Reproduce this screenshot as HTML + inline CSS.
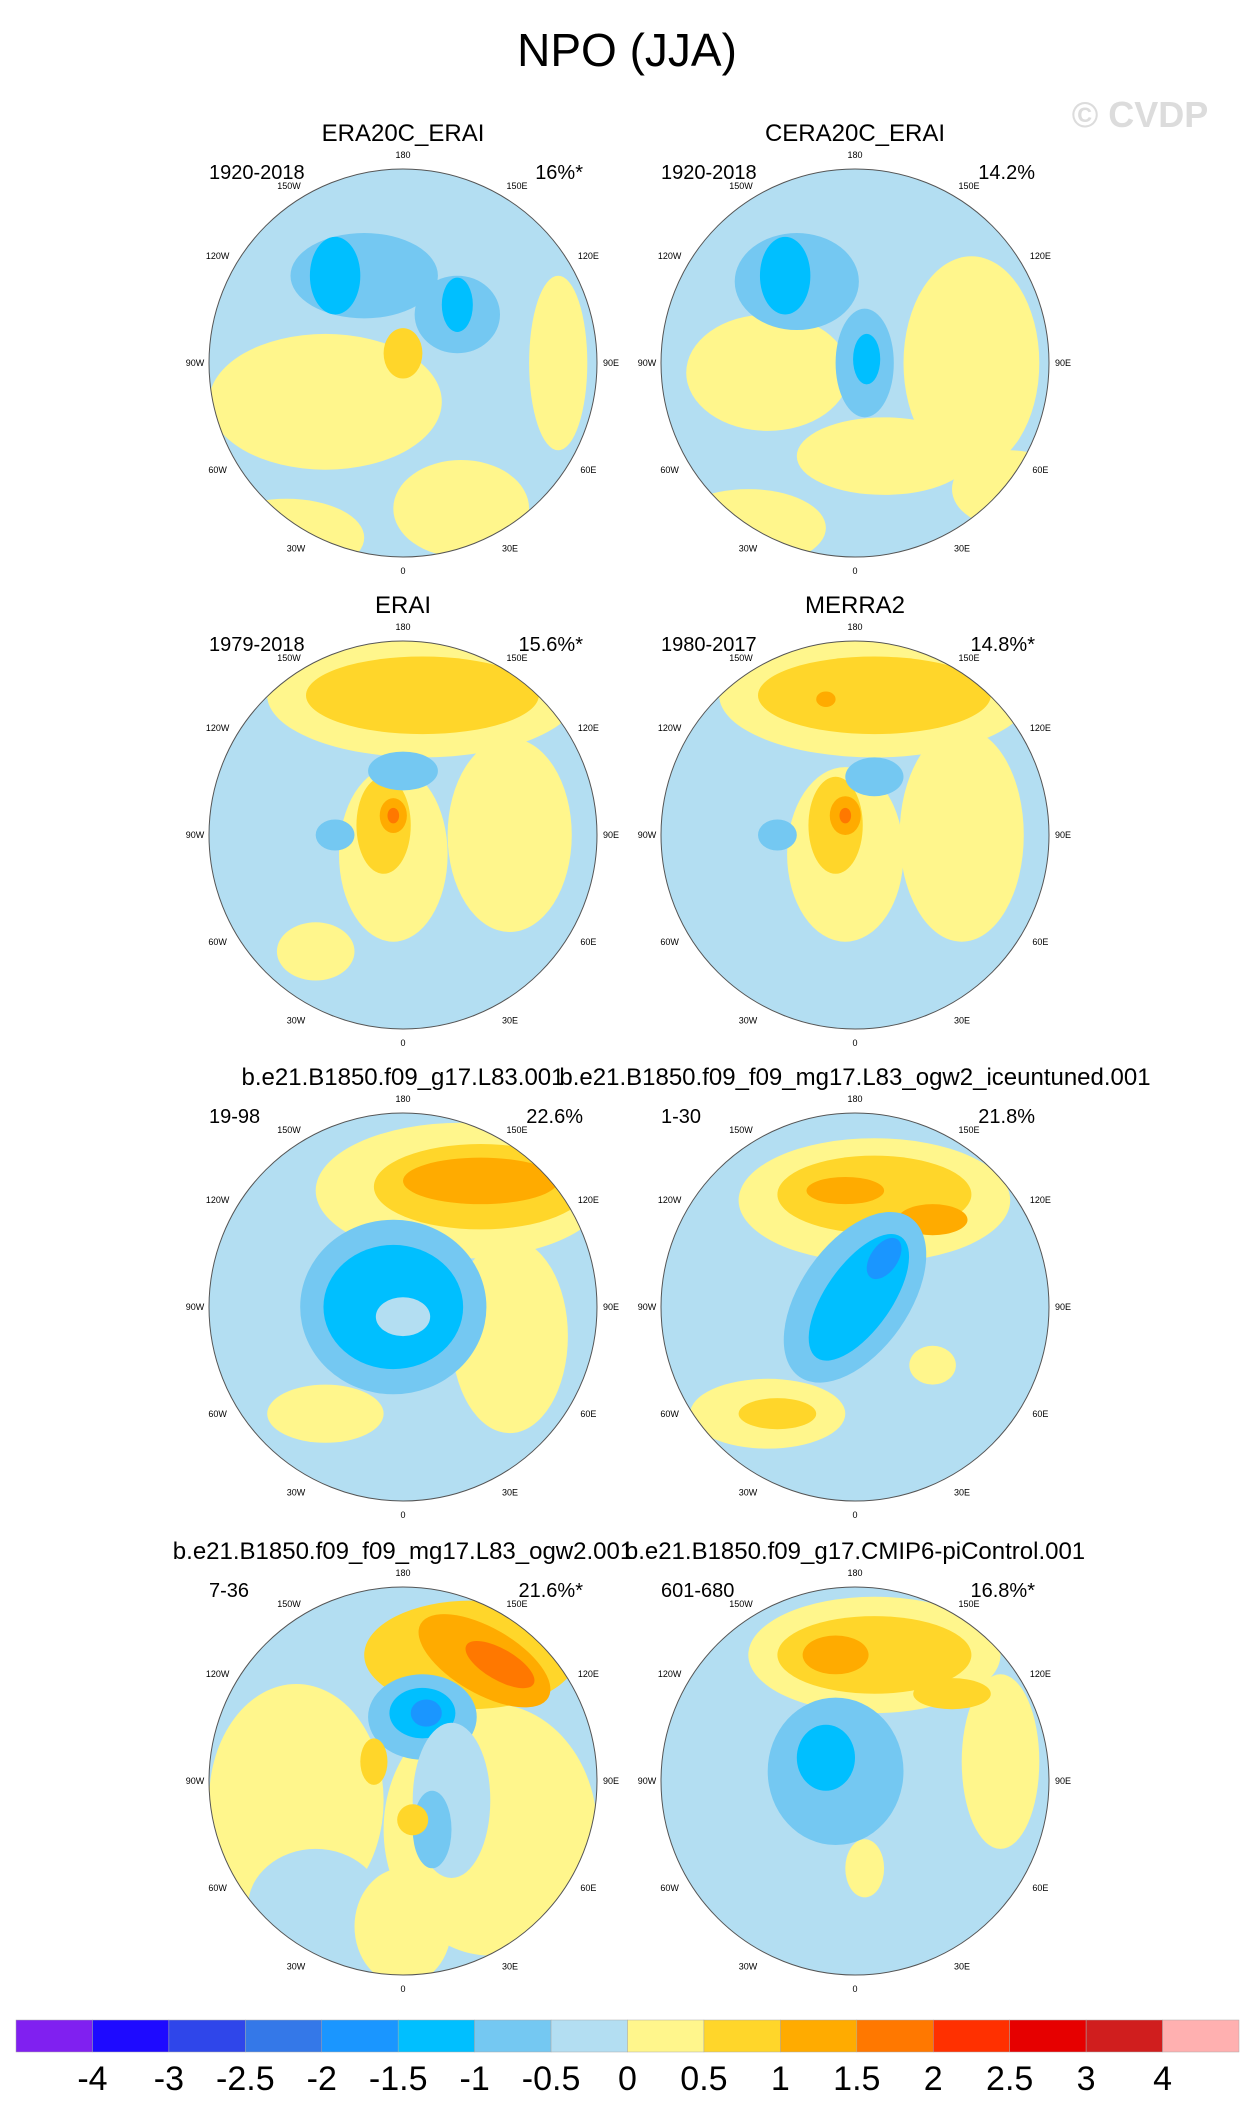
<!DOCTYPE html>
<html><head><meta charset="utf-8"><style>
body{margin:0;background:#fff;}
svg{display:block;font-family:"Liberation Sans",sans-serif;}
</style></head><body>
<svg id="fig" width="1258" height="2126" viewBox="0 0 1258 2126">
<text x="627" y="66" font-size="46" text-anchor="middle">NPO (JJA)</text>
<text x="1140" y="127" font-size="36" font-weight="bold" fill="#dcdcdc" text-anchor="middle">© CVDP</text>
<g id="panels"></g>
<g id="cbar"></g>
</svg>
<script>
const colors=["#8020F0","#1E0AFF","#2F46EA","#3478E8","#1A96FF","#00BFFF","#74C8F2","#B3DEF2","#FFF68C","#FFD62A","#FFAB00","#FF7800","#FF3000","#E60000","#D01E1E","#FFB0B0"];
const cbarLabels=["-4","-3","-2.5","-2","-1.5","-1","-0.5","0","0.5","1","1.5","2","2.5","3","4"];
const titles=["ERA20C_ERAI","CERA20C_ERAI","ERAI","MERRA2","b.e21.B1850.f09_g17.L83.001","b.e21.B1850.f09_f09_mg17.L83_ogw2_iceuntuned.001","b.e21.B1850.f09_f09_mg17.L83_ogw2.001","b.e21.B1850.f09_g17.CMIP6-piControl.001"];
const years=["1920-2018","1920-2018","1979-2018","1980-2017","19-98","1-30","7-36","601-680"];
const pcts=["16%*","14.2%","15.6%*","14.8%*","22.6%","21.8%","21.6%*","16.8%*"];
// blobs: [x, y, rx, ry, colorIndex, rotation] relative to circle radius
const blobs=[
 [[-0.4,0.2,0.6,0.35,8,0],[-0.6,0.9,0.4,0.2,8,0],[0.3,0.75,0.35,0.25,8,0],[-0.2,-0.45,0.38,0.22,6,0],[0.28,-0.25,0.22,0.2,6,0],[-0.35,-0.45,0.13,0.2,5,0],[0.28,-0.3,0.08,0.14,5,0],[0.0,-0.05,0.1,0.13,9,0],[0.8,0.0,0.15,0.45,8,0]],
 [[0.6,0.0,0.35,0.55,8,0],[-0.45,0.05,0.42,0.3,8,0],[0.15,0.48,0.45,0.2,8,0],[-0.55,0.85,0.4,0.2,8,0],[0.8,0.65,0.3,0.2,8,0],[-0.3,-0.42,0.32,0.25,6,0],[-0.36,-0.45,0.13,0.2,5,0],[0.05,0.0,0.15,0.28,6,0],[0.06,-0.02,0.07,0.13,5,0]],
 [[0.1,-0.72,0.8,0.32,8,0],[0.1,-0.72,0.6,0.2,9,0],[-0.05,0.1,0.28,0.45,8,0],[0.55,0.0,0.32,0.5,8,0],[-0.1,-0.05,0.14,0.25,9,0],[-0.05,-0.1,0.07,0.09,10,0],[-0.05,-0.1,0.03,0.04,11,0],[0.0,-0.33,0.18,0.1,6,0],[-0.35,0.0,0.1,0.08,6,0],[-0.45,0.6,0.2,0.15,8,0]],
 [[0.1,-0.72,0.8,0.32,8,0],[0.1,-0.72,0.6,0.2,9,0],[-0.15,-0.7,0.05,0.04,10,0],[-0.05,0.1,0.3,0.45,8,0],[0.55,0.0,0.32,0.55,8,0],[-0.1,-0.05,0.14,0.25,9,0],[-0.05,-0.1,0.08,0.1,10,0],[-0.05,-0.1,0.03,0.04,11,0],[0.1,-0.3,0.15,0.1,6,0],[-0.4,0.0,0.1,0.08,6,0]],
 [[0.3,-0.6,0.75,0.35,8,0],[0.4,-0.62,0.55,0.22,9,0],[0.4,-0.65,0.4,0.12,10,0],[0.55,0.15,0.3,0.5,8,0],[-0.4,0.55,0.3,0.15,8,0],[-0.05,0.0,0.48,0.45,6,0],[-0.05,0.0,0.36,0.32,5,0],[0.0,0.05,0.14,0.1,7,0]],
 [[0.1,-0.55,0.7,0.32,8,0],[0.1,-0.58,0.5,0.2,9,0],[-0.05,-0.6,0.2,0.07,10,0],[0.4,-0.45,0.18,0.08,10,0],[-0.45,0.55,0.4,0.18,8,0],[-0.4,0.55,0.2,0.08,9,0],[0.4,0.3,0.12,0.1,8,0],[0.0,-0.05,0.28,0.5,6,35],[0.02,-0.05,0.17,0.38,5,35],[0.15,-0.25,0.07,0.12,4,35]],
 [[0.45,0.25,0.55,0.65,8,0],[-0.55,0.1,0.45,0.6,8,0],[-0.45,0.65,0.35,0.3,7,0],[0.0,0.75,0.25,0.3,8,0],[0.35,-0.65,0.55,0.28,9,0],[0.42,-0.62,0.38,0.17,10,30],[0.5,-0.6,0.2,0.08,11,30],[0.1,-0.33,0.28,0.22,6,0],[0.1,-0.35,0.17,0.13,5,0],[0.12,-0.35,0.08,0.07,4,0],[0.25,0.1,0.2,0.4,7,0],[0.15,0.25,0.1,0.2,6,0],[-0.15,-0.1,0.07,0.12,9,0],[0.05,0.2,0.08,0.08,9,0]],
 [[0.75,-0.1,0.2,0.45,8,0],[0.1,-0.65,0.65,0.3,8,0],[0.1,-0.65,0.5,0.2,9,0],[-0.1,-0.65,0.17,0.1,10,0],[0.5,-0.45,0.2,0.08,9,0],[-0.1,-0.05,0.35,0.38,6,0],[-0.15,-0.12,0.15,0.17,5,0],[0.05,0.45,0.1,0.15,8,0]]
];
const NS="http://www.w3.org/2000/svg";
const colX=[403,855], rowY=[363,835,1307,1781], R=194;
const lonLabels=["0","30E","60E","90E","120E","150E","180","150W","120W","90W","60W","30W"];
const P=document.getElementById('panels');
function mk(t,a,parent){const e=document.createElementNS(NS,t);for(const k in a)e.setAttribute(k,a[k]);parent.appendChild(e);return e;}
for(let i=0;i<8;i++){
  const cx=colX[i%2], cy=rowY[Math.floor(i/2)];
  const g=mk('g',{},P);
  
  
  const cp=mk('clipPath',{id:'c'+i},g); mk('circle',{cx:cx,cy:cy,r:R},cp);
  const inner=mk('g',{'clip-path':'url(#c'+i+')'},g);
  mk('circle',{cx:cx,cy:cy,r:R,fill:colors[7]},inner);
  blobs[i].forEach(b=>{
    const e=mk('ellipse',{cx:cx+b[0]*R,cy:cy+b[1]*R,rx:b[2]*R,ry:b[3]*R,fill:colors[b[4]],transform:'rotate('+b[5]+' '+(cx+b[0]*R)+' '+(cy+b[1]*R)+')'},inner);
    
    
  });
  const ring=mk('circle',{cx:cx,cy:cy,r:R,fill:'none',stroke:'#555','stroke-width':1},g);
  
  
  lonLabels.forEach((l,k)=>{
    const a=k*30*Math.PI/180, rr=R+(k%3===0?14:20);
    let lx=cx+Math.sin(a)*rr, ly=cy+Math.cos(a)*rr+3;
    if(k===5){lx=cx+114;ly=cy-174;}
    if(k===7){lx=cx-114;ly=cy-174;}
    const t=mk('text',{x:lx,y:ly,'font-size':9,'text-anchor':'middle'},g);
    t.textContent=l;
    
    
  });
  const tt=mk('text',{x:cx,y:cy-R-28,'font-size':24,'text-anchor':'middle'},g);
  tt.textContent=titles[i];
  
  
  const yt=mk('text',{x:cx-194,y:cy-R+10,'font-size':20},g);
  yt.textContent=years[i];
  
  
  const pt=mk('text',{x:cx+180,y:cy-R+10,'font-size':20,'text-anchor':'end'},g);
  pt.textContent=pcts[i];
  
  
}
const C=document.getElementById('cbar');
const x0=16,w=(1239-16)/16;
colors.forEach((c,k)=>{
  const r=mk('rect',{x:x0+k*w,y:2020,width:w,height:32,fill:c,stroke:'#aaa','stroke-width':0.5},C);
  
  
});
cbarLabels.forEach((l,k)=>{
  const t=mk('text',{x:x0+(k+1)*w,y:2090,'font-size':34,'text-anchor':'middle'},C);
  t.textContent=l;
  
  
});
</script>
</body></html>
